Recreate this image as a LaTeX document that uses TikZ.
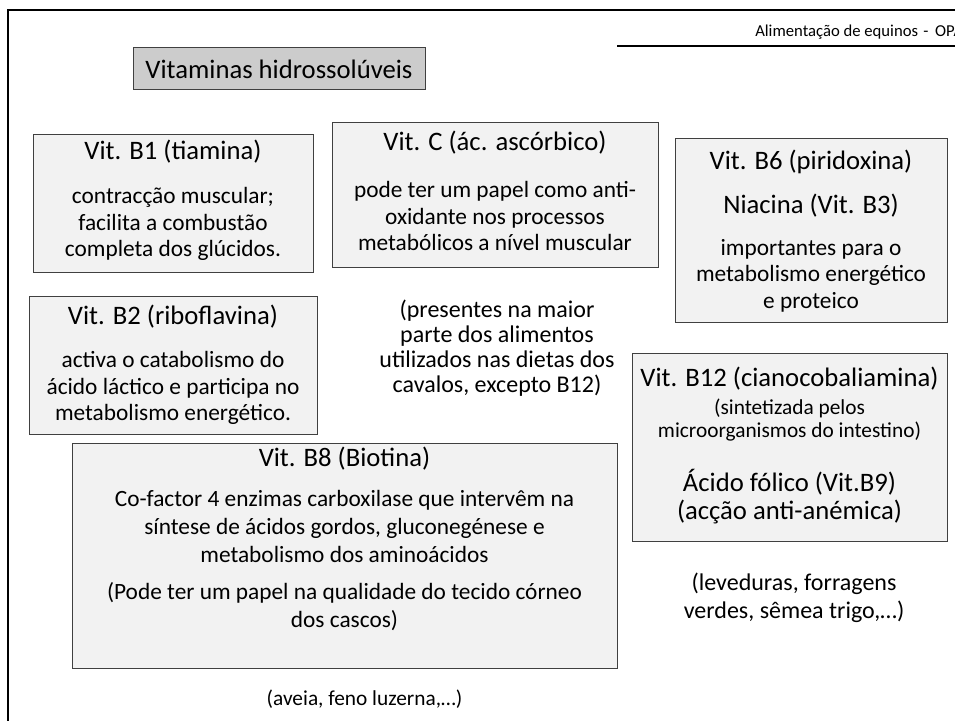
\documentclass[tikz,border=0pt]{standalone}
\usepackage{fontspec}
\setmainfont{Carlito}
\usetikzlibrary{positioning}
\definecolor{boxfill}{RGB}{242,242,242}
\definecolor{boxline}{RGB}{64,64,64}
\definecolor{headfill}{RGB}{204,204,204}

\newcommand{\vtitle}{\fontsize{20}{20}\selectfont}
\newcommand{\vsmall}{\fontsize{16}{20}\selectfont}

\tikzset{
    vitbox/.style = {draw=boxline, fill=boxfill, line width=0.75pt, inner sep=0pt},
    vittext/.style = {align=center, inner sep=0pt, font=\fontsize{17.5}{20}\selectfont},
    note/.style = {align=center, inner sep=0pt, font=\fontsize{18}{18.75}\selectfont}
}

\begin{document}
\begin{tikzpicture}[x=0.75pt, y=-0.75pt]
    \useasboundingbox (0,0) rectangle (955,720);
    \begin{scope}
    \clip (0,0) rectangle (955,720);
    \draw [line width=1.5pt] (8,722) -- (8,10) -- (957,10);
    \draw [line width=1.1pt] (617,46) -- (957,46);
    \node[anchor=base west, inner sep=0pt, font=\fontsize{12.5}{15}\selectfont] (header) at (755,37)
        {Alimentação de equinos\hspace{4pt}-\hspace{5pt}OPA};
    \end{scope}

    \node[draw=boxline, fill=headfill, line width=0.75pt, minimum width=219pt, minimum height=31.5pt,
          font=\vtitle] (title) at (279,69) {Vitaminas hidrossolúveis};

    % caixas
    \node[vitbox, minimum width=210pt, minimum height=102.75pt] (b1) at (173,203.5) {};
    \node[vitbox, minimum width=244.5pt, minimum height=108pt] (vitc) at (495,195) {};
    \node[vitbox, minimum width=204pt, minimum height=137.25pt] (b6) at (811,230.5) {};
    \node[vitbox, minimum width=216pt, minimum height=103.5pt] (b2) at (173,365) {};
    \node[vitbox, minimum width=236.25pt, minimum height=141pt] (b12) at (789.5,447) {};
    \node[vitbox, minimum width=408.75pt, minimum height=168.75pt] (b8) at (344.5,555.5) {};

    % textos
    \node[vittext, below=4pt of b1.north] (b1t)
        {\vtitle Vit. B1 (tiamina)\\[13pt]
         contracção muscular;\\ facilita a combustão\\ completa dos glúcidos.};
    \node[vittext, below=6.4pt of vitc.north] (vitct)
        {\vtitle Vit. C (ác. ascórbico)\\[15pt]
         pode ter um papel como anti-\\ oxidante nos processos\\ metabólicos a nível muscular};
    \node[vittext, below=8.6pt of b6.north] (b6t)
        {\vtitle Vit. B6 (piridoxina)\\[13pt]
         \vtitle Niacina (Vit. B3)\\[11pt]
         importantes para o\\ metabolismo energético\\ e proteico};
    \node[vittext, below=7.1pt of b2.north] (b2t)
        {\vtitle Vit. B2 (riboflavina)\\[12pt]
         activa o catabolismo do\\ ácido láctico e participa no\\ metabolismo energético.};
    \node[vittext, below=10.9pt of b12.north] (b12t)
        {\vtitle Vit. B12 (cianocobaliamina)\\[1pt]
         \vsmall (sintetizada pelos\\[-3pt]
         \vsmall microorganismos do intestino)\\[20.5pt]
         \vtitle Ácido fólico (Vit.B9)\\[1pt]
         \vtitle (acção anti-anémica)};
    \node[vittext, below=3.2pt of b8.north, font=\fontsize{17.5}{21}\selectfont] (b8t)
        {\vtitle Vit. B8 (Biotina)\\[9pt]
         Co-factor 4 enzimas carboxilase que intervêm na\\ síntese de ácidos gordos, gluconegénese e\\
         metabolismo dos aminoácidos\\[7pt]
         (Pode ter um papel na qualidade do tecido córneo\\ dos cascos)};

    % notas
    \node[note, anchor=north] (common) at (497,299.5)
        {(presentes na maior\\ parte dos alimentos\\ utilizados nas dietas dos\\ cavalos, excepto B12)};
    \node[note, anchor=north, font=\fontsize{18}{21}\selectfont] (b12src) at (794,572.5)
        {(leveduras, forragens\\ verdes, sêmea trigo,…)};
    \node[note, anchor=north, font=\fontsize{16}{20}\selectfont] (b8src) at (364.5,690)
        {(aveia, feno luzerna,…)};
\end{tikzpicture}
\end{document}
